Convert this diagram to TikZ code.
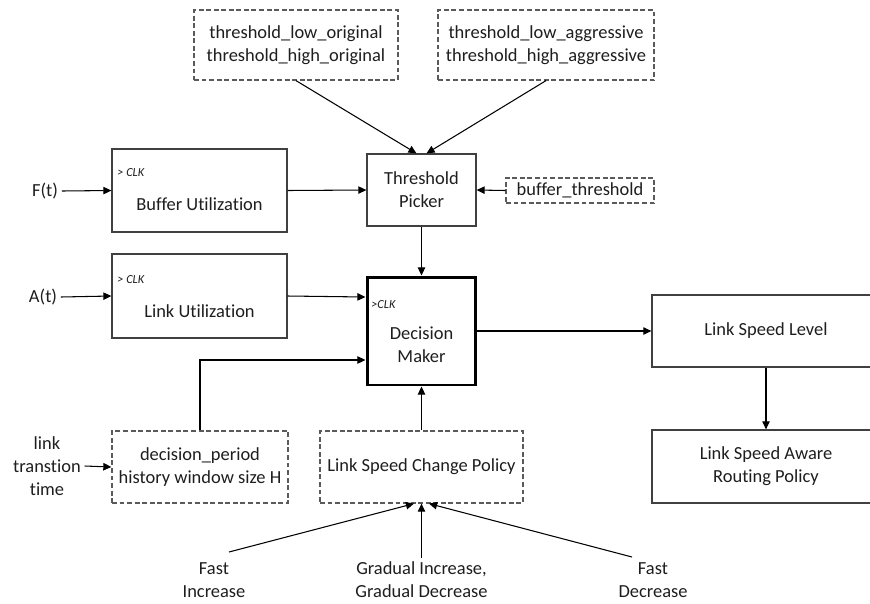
\documentclass[tikz,border=0pt]{standalone}
\usepackage{fontspec}
\setmainfont{Carlito}[Ligatures=NoCommon]
\usetikzlibrary{arrows.meta}
\definecolor{boxline}{HTML}{404040}
\definecolor{dashline}{HTML}{5A5A5A}
\definecolor{txt}{HTML}{1E1E1E}

\begin{document}
\begin{tikzpicture}[x=0.02cm,y=-0.02cm,
  font=\fontsize{10.5}{13}\selectfont,
  block/.style={draw=boxline,line width=0.7pt,fill=white,rectangle,inner sep=0pt,align=center,text=txt},
  param/.style={block,draw=dashline,dash pattern=on 2.8pt off 1.5pt},
  arr/.style={-{Triangle[length=4.6pt,width=4.2pt]},line width=0.6pt},
  clk/.style={font=\fontsize{7}{8}\selectfont\itshape,anchor=west,inner sep=0pt,text=txt},
  lbl/.style={align=center,inner sep=2pt,text=txt},
  inner/.style={align=center,inner sep=0pt,text=txt},
]
\useasboundingbox (0,0) rectangle (870,603);

% threshold sets
\node[param,minimum width=4.08cm,minimum height=1.4cm] (torig) at (296,45)
  {threshold\_low\_original\\threshold\_high\_original};
\node[param,minimum width=4.32cm,minimum height=1.4cm] (taggr) at (546,45)
  {threshold\_low\_aggressive\\threshold\_high\_aggressive};

% threshold picker and its inputs
\node[block,minimum width=2.18cm,minimum height=1.44cm] (tp) at (421.5,190) {Threshold\\Picker};
\node[param,minimum width=2.96cm,minimum height=0.5cm] (bth) at (580,190.5) {buffer\_threshold};

% clocked utilisation blocks
\node[block,minimum width=3.5cm,minimum height=1.66cm,
  label={[inner,yshift=-0.27cm]center:Buffer Utilization}] (bu) at (199.5,190.5) {};
\node[clk] (buclk) at (117,173) {> CLK};
\node[block,minimum width=3.5cm,minimum height=1.68cm,
  label={[inner,yshift=-0.3cm]center:Link Utilization}] (lu) at (199.5,296) {};
\node[clk] (luclk) at (117,280) {> CLK};

% decision maker
\node[block,line width=1.7pt,draw=black,minimum width=2.18cm,minimum height=2.16cm,
  label={[inner,yshift=-0.28cm]center:Decision\\Maker}] (dm) at (421.5,331) {};
\node[clk] (dmclk) at (371,305) {>CLK};

% outputs
\node[block,minimum width=4.56cm,minimum height=1.44cm] (lsl) at (766,331) {Link Speed Level};
\node[block,minimum width=4.56cm,minimum height=1.46cm] (lsrp) at (766,466.5)
  {Link Speed Aware\\Routing Policy};

% lower parameter boxes
\node[param,minimum width=3.52cm,minimum height=1.44cm] (dp) at (200,467)
  {decision\_period\\history window size H};
\node[param,minimum width=4.06cm,minimum height=1.44cm] (lscp) at (421.5,467)
  {Link Speed Change Policy};

% free-standing inputs
\node[lbl] (ft) at (45,191) {F(t)};
\node[lbl] (at) at (43,297) {A(t)};
\node[lbl] (ltt) at (47,466) {link\\transtion\\time};
\node[lbl] (fi) at (214,580) {Fast\\Increase};
\node[lbl] (gr) at (421.5,580) {Gradual Increase,\\Gradual Decrease};
\node[lbl] (fd) at (653,580) {Fast\\Decrease};

% anchor points for connectors
\coordinate (tpin1) at ([xshift=-0.1cm]tp.north);
\coordinate (tpin2) at ([xshift=0.1cm]tp.north);
\path (dm.west) ++(0,-34) coordinate (dmin1);
\path (dm.west) ++(0,29) coordinate (dmin2);
\coordinate (fistart) at (229,552);
\coordinate (fdstart) at (632,557);
\coordinate (lscpin1) at ([xshift=-0.15cm]lscp.south);
\coordinate (lscpin3) at ([xshift=0.15cm]lscp.south);

% connectors
\draw[arr] (torig.south) -- (tpin1);
\draw[arr] (taggr.south) -- (tpin2);
\draw[arr] (bth.west) -- (tp.east);
\draw[arr] (ft.east) -- (bu.west);
\draw[arr] (bu.east) -- (tp.west);
\draw[arr] (at.east) -- (lu.west);
\draw[arr] (lu.east) -- (dmin1);
\draw[arr] (tp.south) -- (dm.north);
\draw[arr] (dp.north) |- (dmin2);
\draw[arr] (lscp.north) -- (dm.south);
\draw[arr] (ltt.east) -- (dp.west);
\draw[arr] (dm.east) -- (lsl.west);
\draw[arr] (lsl.south) -- (lsrp.north);
\draw[arr] (fistart) -- (lscpin1);
\draw[arr] (gr.north) -- (lscp.south);
\draw[arr] (fdstart) -- (lscpin3);
\end{tikzpicture}
\end{document}
